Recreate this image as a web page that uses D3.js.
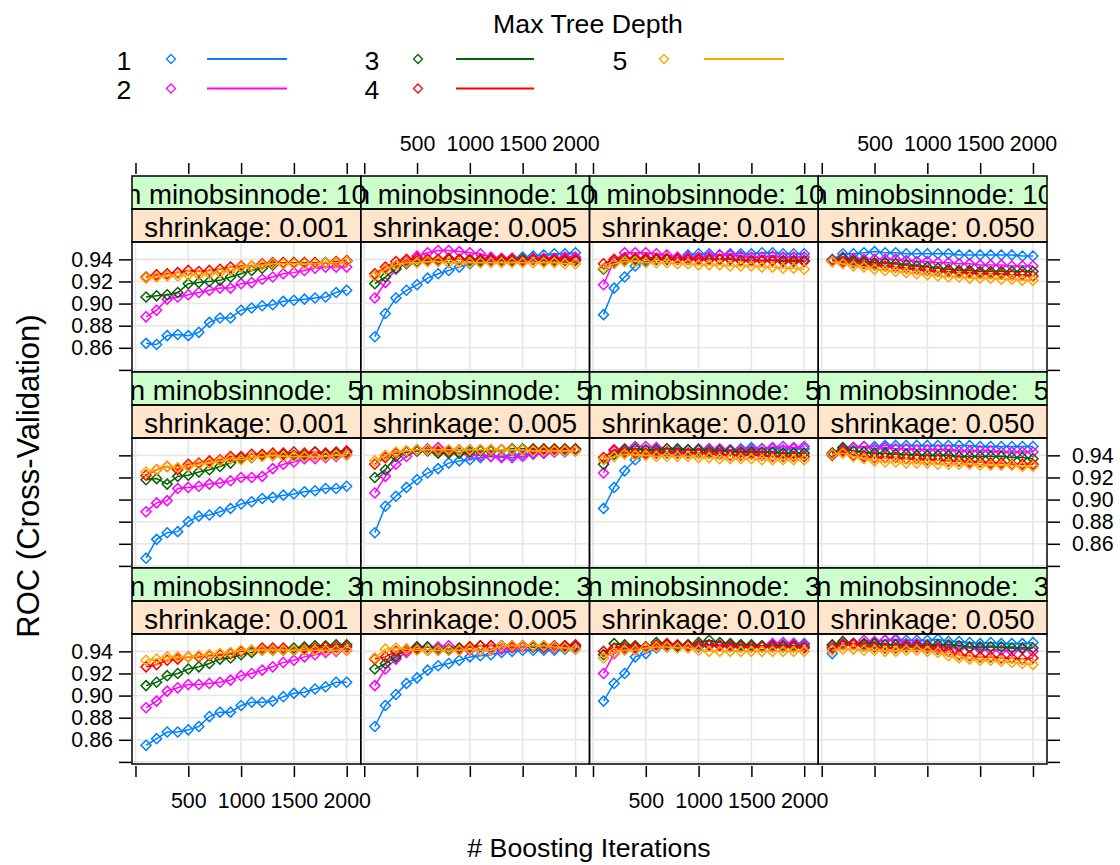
<!DOCTYPE html>
<html><head><meta charset="utf-8">
<script src="https://cdn.jsdelivr.net/npm/d3@7"></script>
<style>body{margin:0;background:#fff;} svg{display:block;font-family:"Liberation Sans",Arial,sans-serif;}</style>
</head><body><svg id="c" width="1120" height="865"></svg>
<script>
// ---- data ----
const iterations = [100,200,300,400,500,600,700,800,900,1000,1100,1200,1300,1400,1500,1600,1700,1800,1900,2000];
const depths = ["1","2","3","4","5"];
const depthColors = ["#0080ff","#ff00ff","#006400","#ff0000","#ffa500"];
const shrinkages = ["0.001","0.005","0.010","0.050"];
const minObsRows = ["10"," 5"," 3"];
const xTicks = [0,500,1000,1500,2000];
const yTicks = [0.84,0.86,0.88,0.90,0.92,0.94];

// ROC per panel: [depth1..depth5]
const n10_s001 = [
 [0.864,0.863,0.871,0.872,0.871,0.874,0.883,0.887,0.887,0.894,0.896,0.898,0.899,0.902,0.903,0.904,0.905,0.906,0.910,0.912],
 [0.888,0.894,0.904,0.906,0.908,0.910,0.912,0.914,0.914,0.918,0.919,0.922,0.924,0.927,0.928,0.930,0.932,0.933,0.933,0.933],
 [0.906,0.907,0.908,0.910,0.918,0.919,0.920,0.921,0.924,0.927,0.930,0.932,0.935,0.937,0.937,0.937,0.937,0.937,0.937,0.938],
 [0.924,0.926,0.927,0.928,0.930,0.929,0.930,0.931,0.933,0.934,0.934,0.936,0.937,0.937,0.937,0.937,0.937,0.937,0.938,0.939],
 [0.923,0.924,0.925,0.925,0.926,0.926,0.927,0.928,0.930,0.933,0.934,0.935,0.936,0.936,0.936,0.936,0.936,0.937,0.937,0.938]];
const n10_s005 = [
 [0.870,0.891,0.905,0.912,0.917,0.923,0.927,0.930,0.933,0.936,0.938,0.939,0.940,0.941,0.942,0.943,0.944,0.945,0.945,0.946],
 [0.905,0.919,0.931,0.938,0.943,0.946,0.948,0.948,0.947,0.946,0.945,0.942,0.941,0.941,0.940,0.941,0.941,0.941,0.942,0.942],
 [0.918,0.924,0.932,0.936,0.938,0.939,0.939,0.940,0.940,0.939,0.939,0.940,0.939,0.939,0.940,0.940,0.939,0.939,0.939,0.939],
 [0.927,0.933,0.938,0.940,0.941,0.940,0.940,0.941,0.940,0.940,0.940,0.940,0.940,0.940,0.939,0.940,0.940,0.940,0.940,0.940],
 [0.925,0.931,0.935,0.937,0.937,0.938,0.938,0.937,0.937,0.937,0.937,0.937,0.937,0.937,0.937,0.937,0.937,0.937,0.936,0.936]];
const n10_s010 = [
 [0.890,0.914,0.924,0.934,0.938,0.940,0.940,0.941,0.944,0.945,0.945,0.944,0.945,0.945,0.945,0.946,0.946,0.945,0.945,0.945],
 [0.917,0.939,0.946,0.946,0.946,0.945,0.944,0.942,0.942,0.942,0.943,0.944,0.944,0.943,0.942,0.942,0.943,0.942,0.942,0.942],
 [0.931,0.937,0.939,0.940,0.940,0.940,0.940,0.940,0.940,0.940,0.940,0.940,0.940,0.939,0.939,0.939,0.939,0.939,0.939,0.939],
 [0.936,0.940,0.941,0.941,0.941,0.941,0.941,0.940,0.940,0.940,0.940,0.940,0.940,0.939,0.939,0.939,0.939,0.938,0.938,0.938],
 [0.932,0.936,0.938,0.938,0.937,0.937,0.937,0.936,0.936,0.935,0.935,0.935,0.934,0.934,0.934,0.933,0.933,0.932,0.932,0.931]];
const n10_s050 = [
 [0.940,0.945,0.945,0.946,0.947,0.946,0.946,0.945,0.945,0.945,0.945,0.945,0.944,0.944,0.944,0.944,0.944,0.944,0.943,0.943],
 [0.938,0.942,0.941,0.940,0.940,0.940,0.940,0.939,0.938,0.938,0.937,0.937,0.936,0.936,0.935,0.935,0.935,0.934,0.934,0.934],
 [0.939,0.941,0.939,0.938,0.937,0.937,0.936,0.935,0.934,0.933,0.932,0.931,0.930,0.930,0.929,0.929,0.929,0.929,0.929,0.929],
 [0.939,0.938,0.937,0.936,0.935,0.934,0.933,0.932,0.931,0.930,0.929,0.929,0.928,0.928,0.927,0.927,0.927,0.926,0.926,0.925],
 [0.938,0.936,0.934,0.933,0.931,0.930,0.929,0.928,0.927,0.926,0.925,0.924,0.924,0.923,0.923,0.923,0.922,0.922,0.921,0.921]];
const n5_s001 = [
 [0.847,0.864,0.870,0.871,0.880,0.885,0.886,0.889,0.892,0.896,0.898,0.901,0.902,0.904,0.905,0.907,0.908,0.910,0.910,0.912],
 [0.889,0.897,0.899,0.910,0.911,0.912,0.914,0.915,0.917,0.920,0.920,0.921,0.928,0.932,0.934,0.937,0.937,0.938,0.939,0.941],
 [0.918,0.919,0.914,0.921,0.922,0.925,0.927,0.930,0.933,0.937,0.938,0.940,0.940,0.941,0.940,0.940,0.943,0.941,0.942,0.943],
 [0.922,0.927,0.930,0.927,0.932,0.933,0.935,0.936,0.939,0.939,0.941,0.941,0.942,0.942,0.943,0.942,0.943,0.942,0.943,0.944],
 [0.925,0.927,0.930,0.929,0.930,0.932,0.933,0.935,0.937,0.936,0.938,0.939,0.940,0.939,0.939,0.939,0.939,0.939,0.940,0.940]];
const n5_s005 = [
 [0.870,0.894,0.903,0.911,0.918,0.924,0.928,0.933,0.935,0.936,0.938,0.939,0.939,0.940,0.941,0.942,0.942,0.943,0.943,0.944],
 [0.906,0.921,0.932,0.939,0.944,0.946,0.947,0.944,0.942,0.941,0.940,0.939,0.938,0.938,0.939,0.941,0.942,0.943,0.944,0.945],
 [0.920,0.927,0.939,0.943,0.944,0.944,0.942,0.942,0.942,0.943,0.944,0.944,0.945,0.946,0.946,0.946,0.946,0.946,0.946,0.946],
 [0.932,0.938,0.942,0.944,0.945,0.945,0.944,0.944,0.945,0.945,0.945,0.945,0.945,0.945,0.945,0.945,0.945,0.945,0.945,0.945],
 [0.935,0.940,0.943,0.944,0.945,0.945,0.945,0.945,0.945,0.945,0.945,0.945,0.945,0.945,0.945,0.944,0.944,0.944,0.944,0.944]];
const n5_s010 = [
 [0.892,0.911,0.926,0.936,0.941,0.943,0.942,0.944,0.945,0.945,0.946,0.945,0.945,0.946,0.947,0.946,0.946,0.945,0.946,0.946],
 [0.924,0.944,0.946,0.948,0.948,0.947,0.946,0.945,0.945,0.946,0.946,0.946,0.945,0.945,0.945,0.946,0.947,0.948,0.947,0.948],
 [0.932,0.941,0.945,0.946,0.945,0.945,0.946,0.946,0.945,0.945,0.944,0.944,0.944,0.943,0.943,0.943,0.943,0.942,0.942,0.942],
 [0.938,0.945,0.943,0.942,0.942,0.942,0.943,0.942,0.942,0.942,0.942,0.941,0.940,0.940,0.941,0.940,0.939,0.939,0.939,0.939],
 [0.936,0.939,0.941,0.940,0.940,0.939,0.939,0.939,0.939,0.938,0.938,0.937,0.937,0.937,0.937,0.936,0.936,0.936,0.936,0.936]];
const n5_s050 = [
 [0.941,0.946,0.947,0.948,0.948,0.949,0.949,0.949,0.949,0.949,0.949,0.949,0.949,0.949,0.948,0.948,0.948,0.948,0.948,0.948],
 [0.942,0.945,0.947,0.948,0.946,0.947,0.946,0.946,0.945,0.945,0.945,0.945,0.944,0.944,0.944,0.944,0.943,0.943,0.943,0.943],
 [0.942,0.947,0.944,0.943,0.942,0.942,0.941,0.941,0.940,0.940,0.940,0.940,0.939,0.939,0.939,0.939,0.939,0.938,0.938,0.937],
 [0.940,0.944,0.940,0.939,0.938,0.938,0.938,0.937,0.937,0.936,0.936,0.935,0.935,0.934,0.934,0.933,0.933,0.932,0.932,0.932],
 [0.941,0.942,0.939,0.937,0.935,0.934,0.934,0.933,0.933,0.933,0.932,0.932,0.932,0.932,0.931,0.931,0.931,0.931,0.930,0.930]];
const n3_s001 = [
 [0.855,0.861,0.867,0.867,0.869,0.872,0.881,0.885,0.885,0.891,0.894,0.894,0.895,0.899,0.902,0.903,0.906,0.908,0.912,0.912],
 [0.889,0.895,0.904,0.907,0.910,0.910,0.911,0.912,0.914,0.918,0.920,0.923,0.926,0.930,0.932,0.935,0.937,0.939,0.940,0.941],
 [0.909,0.912,0.918,0.920,0.924,0.926,0.929,0.933,0.934,0.937,0.939,0.941,0.941,0.941,0.943,0.944,0.945,0.945,0.946,0.946],
 [0.926,0.928,0.932,0.933,0.935,0.935,0.936,0.937,0.938,0.940,0.941,0.943,0.943,0.943,0.941,0.942,0.943,0.944,0.944,0.944],
 [0.932,0.933,0.935,0.935,0.935,0.936,0.937,0.938,0.939,0.941,0.941,0.941,0.941,0.941,0.941,0.941,0.941,0.941,0.941,0.941]];
const n3_s005 = [
 [0.872,0.891,0.901,0.911,0.916,0.923,0.927,0.929,0.932,0.935,0.936,0.937,0.939,0.940,0.941,0.941,0.941,0.941,0.942,0.942],
 [0.909,0.924,0.933,0.939,0.944,0.944,0.944,0.945,0.943,0.941,0.941,0.942,0.942,0.943,0.944,0.944,0.943,0.943,0.944,0.944],
 [0.924,0.929,0.935,0.942,0.944,0.944,0.942,0.942,0.943,0.944,0.945,0.945,0.945,0.945,0.945,0.944,0.944,0.944,0.945,0.945],
 [0.933,0.935,0.940,0.941,0.942,0.941,0.941,0.941,0.942,0.944,0.945,0.945,0.945,0.944,0.945,0.945,0.945,0.945,0.945,0.946],
 [0.934,0.942,0.943,0.942,0.941,0.941,0.941,0.941,0.941,0.942,0.941,0.941,0.945,0.945,0.945,0.945,0.945,0.944,0.943,0.942]];
const n3_s010 = [
 [0.895,0.911,0.920,0.935,0.938,0.943,0.944,0.944,0.945,0.944,0.945,0.945,0.944,0.945,0.945,0.945,0.946,0.946,0.947,0.947],
 [0.920,0.938,0.942,0.943,0.943,0.944,0.945,0.945,0.946,0.946,0.946,0.946,0.946,0.946,0.945,0.945,0.947,0.948,0.947,0.946],
 [0.937,0.947,0.946,0.945,0.944,0.948,0.946,0.945,0.946,0.948,0.950,0.948,0.947,0.946,0.946,0.945,0.945,0.945,0.945,0.944],
 [0.940,0.943,0.944,0.944,0.944,0.946,0.947,0.946,0.945,0.946,0.946,0.945,0.945,0.944,0.944,0.944,0.944,0.944,0.944,0.943],
 [0.934,0.939,0.941,0.941,0.943,0.944,0.944,0.943,0.943,0.941,0.940,0.940,0.940,0.940,0.940,0.940,0.940,0.940,0.940,0.940]];
const n3_s050 = [
 [0.938,0.946,0.947,0.947,0.948,0.950,0.951,0.950,0.950,0.950,0.951,0.949,0.949,0.948,0.947,0.948,0.947,0.947,0.947,0.948],
 [0.945,0.947,0.946,0.950,0.949,0.950,0.950,0.947,0.947,0.946,0.944,0.944,0.943,0.943,0.942,0.941,0.941,0.940,0.942,0.940],
 [0.946,0.949,0.947,0.947,0.947,0.946,0.946,0.945,0.945,0.945,0.946,0.946,0.945,0.944,0.944,0.944,0.944,0.943,0.943,0.943],
 [0.943,0.946,0.947,0.945,0.944,0.943,0.943,0.944,0.944,0.943,0.942,0.940,0.937,0.936,0.935,0.935,0.934,0.934,0.933,0.934],
 [0.941,0.942,0.942,0.941,0.941,0.940,0.940,0.941,0.941,0.940,0.939,0.936,0.934,0.933,0.932,0.932,0.931,0.930,0.929,0.928]];

const panelRows = [
  [n10_s001, n10_s005, n10_s010, n10_s050],
  [n5_s001,  n5_s005,  n5_s010,  n5_s050],
  [n3_s001,  n3_s005,  n3_s010,  n3_s050]
];

// ---- layout ----
const svg = d3.select("#c");
const FONT = 26.7, STRIPFONT = 27.6, TICKFONT = 21.4, YLABFONT = 31;
const left0 = 132, pw = 228.75;
const rowTops = [176, 372, 568];
const stripH = 33, ph = 130;
const nCols = 4;

// legend
svg.append("text").attr("x", 588).attr("y", 33).attr("text-anchor","middle")
  .style("font-size", FONT+"px").text("Max Tree Depth");
const legCols = [{t:124, s:171, l1:207, l2:287},{t:372, s:418, l1:456, l2:534},{t:620, s:664, l1:704, l2:784}];
const legRows = [59, 88.5];
const diamond = (r)=> `M0,${-r}L${r},0L0,${r}L${-r},0Z`;
depths.forEach((d,i)=>{
  const c = legCols[Math.floor(i/2)], yy = legRows[i%2];
  const g = svg.append("g");
  g.append("text").attr("x", c.t).attr("y", yy+10.5).attr("text-anchor","middle")
    .style("font-size", FONT+"px").text(d);
  g.append("path").attr("d", diamond(4.5)).attr("transform",`translate(${c.s},${yy})`)
    .attr("fill","none").attr("stroke", depthColors[i]).attr("stroke-width",1.3);
  g.append("line").attr("x1",c.l1).attr("x2",c.l2).attr("y1",yy).attr("y2",yy)
    .attr("stroke", depthColors[i]).attr("stroke-width",2);
});

// clip for strip texts: each strip's text may spill slightly into the next strip
const defs = svg.append("defs");
rowTops.forEach((t,r)=>{
  for (let c=0;c<nCols;c++){
    const x0 = left0 + c*pw;
    const w = c===nCols-1 ? pw : pw+7;
    defs.append("clipPath").attr("id",`sc${r}_${c}`).append("rect")
      .attr("x", x0).attr("y", t).attr("width", w).attr("height", stripH*2);
  }
});

const xFmt = v => v===0 ? "" : String(v);
const yFmt = v => Math.abs(v-0.84)<1e-9 ? "" : d3.format(".2f")(v);

panelRows.forEach((row, r)=>{
  const top = rowTops[r];
  const pTop = top + 2*stripH, pBot = pTop + ph;
  const y = d3.scaleLinear().domain([0.8381, 0.9557]).range([pBot, pTop]);

  row.forEach((pd, c)=>{
    const x0 = left0 + c*pw;
    svg.append("rect").attr("x",x0).attr("y",top).attr("width",pw).attr("height",stripH)
      .attr("fill","#ccffcc");
    svg.append("rect").attr("x",x0).attr("y",top+stripH).attr("width",pw).attr("height",stripH)
      .attr("fill","#ffe5cc");
  });
  row.forEach((pd, c)=>{
    const cx = left0 + c*pw + pw/2;
    const st = svg.append("g").attr("clip-path",`url(#sc${r}_${c})`);
    st.append("text").attr("x",cx).attr("y",top+stripH-5.5).attr("text-anchor","middle")
      .style("font-size",STRIPFONT+"px").style("white-space","pre").text("n minobsinnode: "+minObsRows[r]);
    st.append("text").attr("x",cx).attr("y",top+2*stripH-5.5).attr("text-anchor","middle")
      .style("font-size",STRIPFONT+"px").text("shrinkage: "+shrinkages[c]);
  });

  row.forEach((pd, c)=>{
    const x0 = left0 + c*pw;
    const x = d3.scaleLinear().domain([-33, 2133]).range([x0, x0+pw]);
    const g = svg.append("g");
    g.selectAll(".vg").data(xTicks).join("line")
      .attr("x1",d=>x(d)).attr("x2",d=>x(d)).attr("y1",pTop).attr("y2",pBot)
      .attr("stroke","#e6e6e6").attr("stroke-width",1.6);
    g.selectAll(".hg").data(yTicks).join("line")
      .attr("x1",x0).attr("x2",x0+pw).attr("y1",d=>y(d)).attr("y2",d=>y(d))
      .attr("stroke","#e6e6e6").attr("stroke-width",1.6);
    const line = d3.line().x((d,i)=>x(iterations[i])).y(d=>y(d));
    pd.forEach((vals, k)=>{
      g.append("path").attr("d", line(vals)).attr("fill","none")
        .attr("stroke", depthColors[k]).attr("stroke-width",1.5);
      g.selectAll(null).data(vals).join("path")
        .attr("d", diamond(5))
        .attr("transform",(d,i)=>`translate(${x(iterations[i])},${y(d)})`)
        .attr("fill","none").attr("stroke", depthColors[k]).attr("stroke-width",1.5);
    });
    svg.append("rect").attr("x",x0).attr("y",top).attr("width",pw).attr("height",stripH)
      .attr("fill","none").attr("stroke","#000").attr("stroke-width",1.5);
    svg.append("rect").attr("x",x0).attr("y",top+stripH).attr("width",pw).attr("height",stripH)
      .attr("fill","none").attr("stroke","#000").attr("stroke-width",1.5);
    svg.append("rect").attr("x",x0).attr("y",pTop).attr("width",pw).attr("height",ph)
      .attr("fill","none").attr("stroke","#000").attr("stroke-width",1.5);

    if (r===0) {
      const ax = d3.axisTop(x).tickValues(xTicks).tickSize(11).tickPadding(12)
        .tickFormat(c%2===1 ? xFmt : ()=>"");
      styleAxis(svg.append("g").attr("transform",`translate(0,${top-2})`).call(ax));
    }
    if (r===2) {
      const ax = d3.axisBottom(x).tickValues(xTicks).tickSize(11).tickPadding(16)
        .tickFormat(c%2===0 ? xFmt : ()=>"");
      styleAxis(svg.append("g").attr("transform",`translate(0,${pBot+2})`).call(ax));
    }
  });

  const axL = d3.axisLeft(y).tickValues(yTicks).tickSize(12).tickPadding(6)
    .tickFormat(r%2===0 ? yFmt : ()=>"");
  styleAxis(svg.append("g").attr("transform",`translate(${left0-1},0)`).call(axL));
  const axR = d3.axisRight(y).tickValues(yTicks).tickSize(12).tickPadding(12)
    .tickFormat(r%2===1 ? yFmt : ()=>"");
  styleAxis(svg.append("g").attr("transform",`translate(${left0+nCols*pw+1},0)`).call(axR));
});

function styleAxis(a){
  a.select(".domain").remove();
  a.selectAll(".tick line").attr("stroke","#000").attr("stroke-width",1.5);
  a.selectAll(".tick text").attr("fill","#000").style("font-size",TICKFONT+"px")
    .style("font-family",'"Liberation Sans",Arial,sans-serif');
}

// axis titles
svg.append("text").attr("x", 589).attr("y", 857).attr("text-anchor","middle")
  .style("font-size", FONT+"px").text("# Boosting Iterations");
svg.append("text").attr("transform","translate(39,476) rotate(-90)").attr("text-anchor","middle")
  .style("font-size", YLABFONT+"px").text("ROC (Cross-Validation)");
</script></body></html>
